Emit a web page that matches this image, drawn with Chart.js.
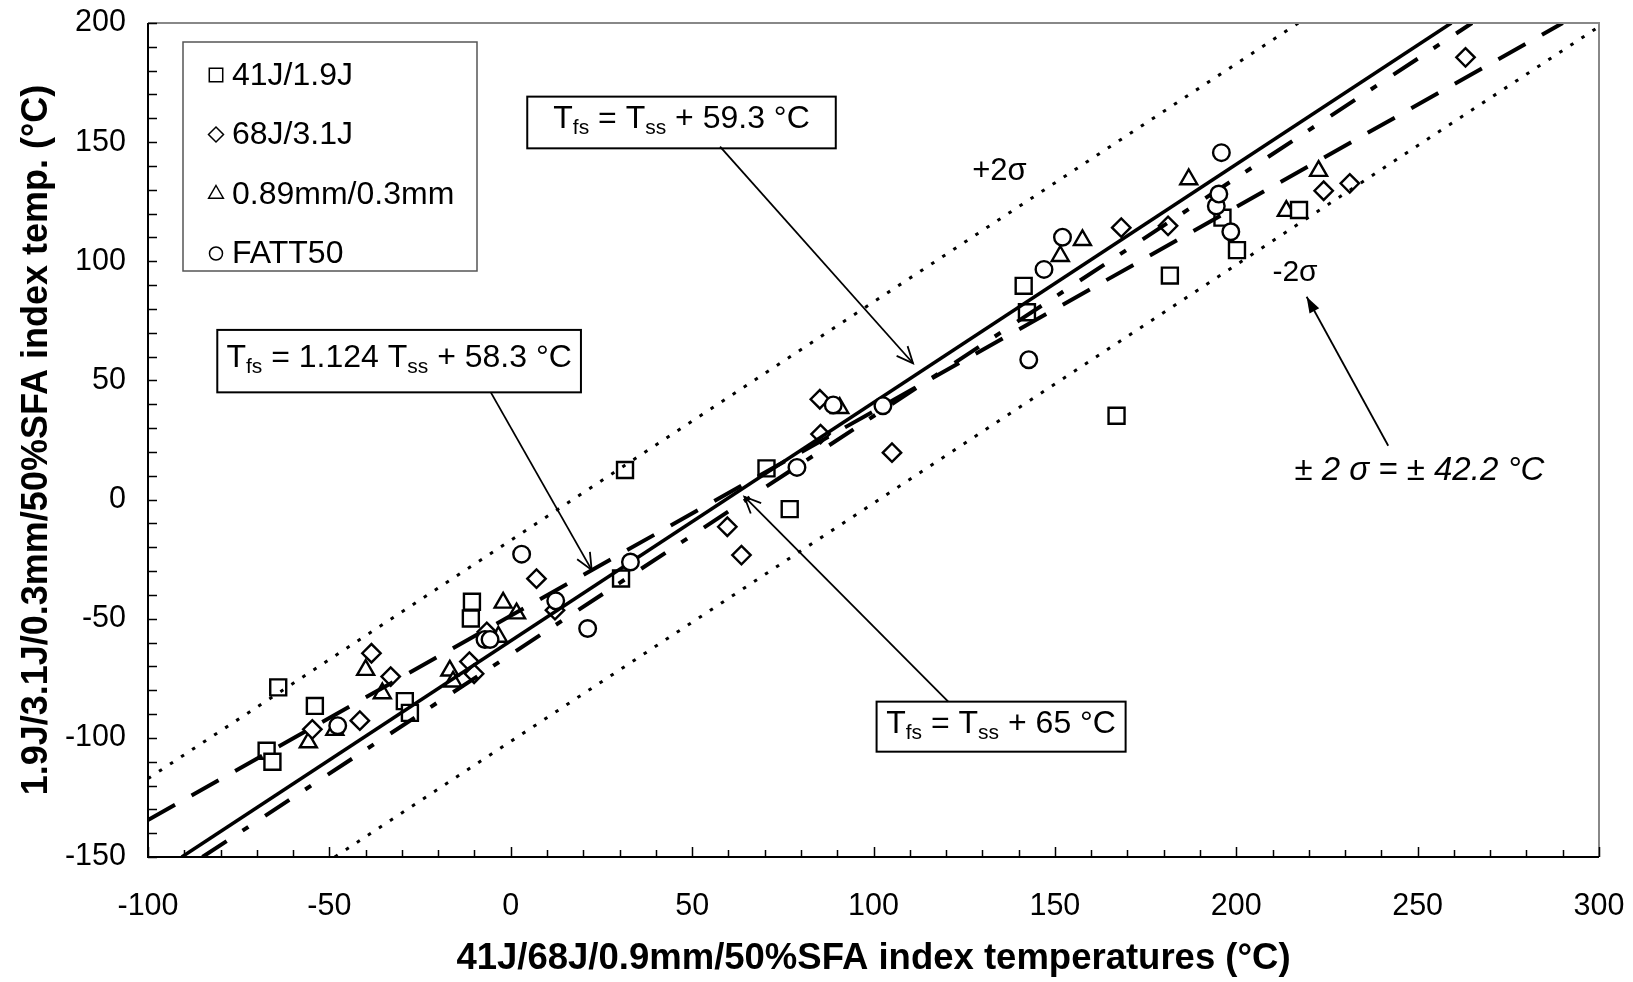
<!DOCTYPE html>
<html>
<head>
<meta charset="utf-8">
<title>Index temperatures</title>
<script src="https://cdn.jsdelivr.net/npm/chart.js@4.4.1/dist/chart.umd.min.js"></script>
<style>
  html, body { margin: 0; padding: 0; background: #fff; }
  canvas { display: block; }
</style>
</head>
<body>
<canvas id="myChart" width="1633" height="982"></canvas>
<script>
// index temperatures in °C : x = full size specimen, y = sub size specimen
const seriesNames = ['41J/1.9J', '68J/3.1J', '0.89mm/0.3mm', 'FATT50']

const sqX = [-67.3, -65.7, -64.1, -54.0, -29.2, -27.8, -10.7, -11.0, 30.4, 31.5, 70.5, 76.9, 141.4, 142.3, 167.0, 181.7, 196.2, 200.2, 217.3]
const sqY = [-105.4, -110.0, -78.8, -86.6, -84.6, -89.5, -42.9, -49.9, -33.1, 12.4, 13.1, -4.0, 89.7, 78.6, 35.2, 94.0, 118.3, 104.7, 121.5]

const dmX = [-54.7, -41.6, -38.4, -33.1, -11.4, -10.1, -6.6, 7.1, 12.2, 59.7, 63.6, 85.2, 85.4, 105.1, 168.3, 181.2, 224.1, 231.3, 263.2]
const dmY = [-96.4, -92.8, -64.5, -74.3, -68.0, -73.1, -55.5, -33.2, -46.4, -11.4, -23.3, 42.1, 27.5, 19.7, 114.1, 114.9, 129.6, 132.7, 185.6]

const trX = [-55.8, -48.5, -40.0, -35.4, -16.8, -15.9, -3.4, -2.1, 1.6, 90.7, 151.5, 157.6, 186.9, 213.8, 222.7]
const trY = [-101.9, -96.7, -71.5, -81.3, -71.8, -76.4, -57.6, -43.3, -47.8, 38.4, 102.2, 108.9, 134.4, 121.1, 137.9]

const ciX = [-47.7, -7.1, -5.7, 3.0, 12.4, 21.2, 33.0, 78.9, 88.9, 102.6, 142.8, 147.0, 152.1, 194.5, 195.2, 195.9, 198.5]
const ciY = [-94.9, -58.7, -58.7, -22.9, -42.5, -54.1, -26.2, 13.5, 39.7, 39.4, 58.7, 96.6, 110.1, 123.2, 128.2, 145.6, 112.4]

// correlation lines (end points)
const shiftX = [-90.7, 259.3], shiftY = [-150, 200]     // T_fs = T_ss + 59.3
const shift65X = [-85, 265], shift65Y = [-150, 200]     // T_fs = T_ss + 65
const regX = [-100, 290], regY = [-134.5, 200]          // linear fit
const upX = [-100, 217.1], upY = [-117.1, 200]          // +2 sigma
const loX = [-48.5, 300], loY = [-150, 198.5]           // -2 sigma

const xTicks = [-100, -50, 0, 50, 100, 150, 200, 250, 300]
const yTicks = [-150, -100, -50, 0, 50, 100, 150, 200]

const FONT = "'Liberation Sans', Arial, sans-serif"

const pts = (xs, ys) => xs.map((x, i) => ({ x: x, y: ys[i] }))

function markerSet(label, xs, ys, style, r, order) {
    return {
        label: label,
        data: pts(xs, ys),
        pointStyle: style,
        pointRadius: r,
        pointBorderWidth: 2.4,
        pointBorderColor: '#000',
        pointBackgroundColor: '#fff',
        showLine: false,
        order: order
    }
}

function lineSet(xs, ys, width, dash) {
    return {
        data: pts(xs, ys),
        showLine: true,
        pointRadius: 0,
        borderColor: '#000',
        borderWidth: width,
        borderDash: dash,
        fill: false,
        order: 1
    }
}

// hollow marker used in the legend box
function drawMarker(ctx, style, x, y, r) {
    ctx.beginPath()
    if (style === 'rect') {
        const s = r * Math.SQRT1_2
        ctx.rect(x - s, y - s, 2 * s, 2 * s)
    } else if (style === 'rectRot') {
        ctx.moveTo(x - r, y); ctx.lineTo(x, y - r); ctx.lineTo(x + r, y); ctx.lineTo(x, y + r); ctx.closePath()
    } else if (style === 'triangle') {
        ctx.moveTo(x, y - r); ctx.lineTo(x + r * 0.866, y + r / 2); ctx.lineTo(x - r * 0.866, y + r / 2); ctx.closePath()
    } else {
        ctx.arc(x, y, r, 0, Math.PI * 2)
    }
    ctx.fill()
    ctx.stroke()
}

// box with T_fs / T_ss text, subscripts drawn smaller and lower
const eqBoxes = [
    { parts: [['T', 0], ['fs', 1], [' = T', 0], ['ss', 1], [' + 59.3 °C', 0]], box: [4.55, 169.1, 89.6, 147.4], arrow: [57.7, 148.1, 110.9, 57.2] },
    { parts: [['T', 0], ['fs', 1], [' = 1.124 T', 0], ['ss', 1], [' + 58.3 °C', 0]], box: [-80.9, 71.2, 19.35, 45.0], arrow: [-5.5, 45.0, 22.3, -29.5] },
    { parts: [['T', 0], ['fs', 1], [' = T', 0], ['ss', 1], [' + 65 °C', 0]], box: [100.85, -84.8, 169.5, -105.8], arrow: [120.6, -84.8, 64.4, 1.2] }
]

function arrowLine(ctx, x0, y0, x1, y1, filled) {
    const a = Math.atan2(y1 - y0, x1 - x0)
    ctx.beginPath()
    ctx.moveTo(x0, y0)
    ctx.lineTo(x1, y1)
    ctx.stroke()
    const len = filled ? 17 : 18, spread = filled ? 0.33 : 0.42
    ctx.beginPath()
    ctx.moveTo(x1 - len * Math.cos(a - spread), y1 - len * Math.sin(a - spread))
    ctx.lineTo(x1, y1)
    ctx.lineTo(x1 - len * Math.cos(a + spread), y1 - len * Math.sin(a + spread))
    if (filled) { ctx.closePath(); ctx.fill() } else ctx.stroke()
}

const frame = {
    id: 'frame',
    afterDatasetsDraw(chart) {
        const { ctx, chartArea: a, scales: { x, y } } = chart
        ctx.save()
        ctx.lineWidth = 2
        ctx.strokeStyle = '#888'
        ctx.beginPath()
        ctx.moveTo(a.left, a.top); ctx.lineTo(a.right, a.top); ctx.lineTo(a.right, a.bottom)
        ctx.stroke()
        ctx.strokeStyle = '#000'
        ctx.beginPath()
        ctx.moveTo(a.left, a.top); ctx.lineTo(a.left, a.bottom); ctx.lineTo(a.right, a.bottom)
        ctx.stroke()
        // small inward ticks every 10 °C
        ctx.lineWidth = 1.5
        ctx.beginPath()
        for (let v = x.min; v <= x.max; v += 10) {
            const px = Math.round(x.getPixelForValue(v)) + 0.5
            ctx.moveTo(px, a.bottom)
            ctx.lineTo(px, a.bottom - (v % 50 === 0 ? 10 : 7))
        }
        for (let v = y.min; v <= y.max; v += 10) {
            const py = Math.round(y.getPixelForValue(v)) + 0.5
            ctx.moveTo(a.left, py)
            ctx.lineTo(a.left + 9, py)
        }
        ctx.stroke()
        ctx.restore()
    }
}

const notes = {
    id: 'notes',
    afterDraw(chart) {
        const { ctx, chartArea: a, scales: { x, y } } = chart
        const X = v => x.getPixelForValue(v), Y = v => y.getPixelForValue(v)
        ctx.save()
        ctx.fillStyle = '#000'
        ctx.strokeStyle = '#000'

        // equation boxes and their arrows
        eqBoxes.forEach(e => {
            const l = X(e.box[0]), t = Y(e.box[1]), r = X(e.box[2]), b = Y(e.box[3])
            ctx.fillStyle = '#fff'
            ctx.fillRect(l, t, r - l, b - t)
            ctx.lineWidth = 2
            ctx.strokeRect(l, t, r - l, b - t)
            ctx.fillStyle = '#000'
            let w = 0
            e.parts.forEach(p => {
                ctx.font = (p[1] ? '21px ' : '32px ') + FONT
                w += ctx.measureText(p[0]).width
            })
            let cx = (l + r) / 2 - w / 2
            const base = (t + b) / 2 + 6
            ctx.textBaseline = 'alphabetic'
            ctx.textAlign = 'left'
            e.parts.forEach(p => {
                ctx.font = (p[1] ? '21px ' : '32px ') + FONT
                ctx.fillText(p[0], cx, p[1] ? base + 6 : base)
                cx += ctx.measureText(p[0]).width
            })
            ctx.lineWidth = 1.8
            arrowLine(ctx, X(e.arrow[0]), Y(e.arrow[1]), X(e.arrow[2]), Y(e.arrow[3]), false)
        })

        // sigma band labels
        ctx.textAlign = 'center'
        ctx.textBaseline = 'middle'
        ctx.font = '31px ' + FONT
        ctx.fillText('+2σ', X(134.7), Y(137.5))
        ctx.font = '30px ' + FONT
        ctx.fillText('-2σ', X(216.2), Y(95.0))
        ctx.font = 'italic 33px ' + FONT
        ctx.fillText('± 2 σ = ± 42.2 °C', X(250.5), Y(12.1))
        ctx.lineWidth = 1.8
        arrowLine(ctx, X(241.9), Y(22.6), X(219.4), Y(85.1), true)

        // legend box
        const lx = a.left + 35, ly = a.top + 19
        ctx.fillStyle = '#fff'
        ctx.fillRect(lx, ly, 294, 229)
        ctx.lineWidth = 1.5
        ctx.strokeStyle = '#555'
        ctx.strokeRect(lx, ly, 294, 229)
        const styles = [['rect', 9.5], ['rectRot', 7.5], ['triangle', 8.5], ['circle', 6.5]]
        seriesNames.forEach((name, i) => {
            const cy = ly + 33 + i * 59.5
            ctx.strokeStyle = '#000'
            ctx.fillStyle = '#fff'
            ctx.lineWidth = 1.5
            drawMarker(ctx, styles[i][0], lx + 33, cy, styles[i][1])
            ctx.fillStyle = '#000'
            ctx.textAlign = 'left'
            ctx.textBaseline = 'middle'
            ctx.font = '32px ' + FONT
            ctx.fillText(name, lx + 49, cy + 1)
        })
        ctx.restore()
    }
}

// keep the plot box where the layout padding puts it
const noEdge = s => {
    s.paddingTop = 0; s.paddingBottom = 0; s.paddingLeft = 0; s.paddingRight = 0
}

const myChart = new Chart(document.getElementById('myChart'), {
    type: 'scatter',
    data: {
        datasets: [
            markerSet(seriesNames[3], ciX, ciY, 'circle', 8.3, 0),
            lineSet(shiftX, shiftY, 3.5, []),
            lineSet(shift65X, shift65Y, 4, [29, 19, 7, 20]),
            lineSet(regX, regY, 4, [31, 19]),
            lineSet(upX, upY, 3, [3.5, 9.7]),
            lineSet(loX, loY, 3, [3.5, 9.7]),
            markerSet(seriesNames[0], sqX, sqY, 'rect', 11.3, 2),
            markerSet(seriesNames[1], dmX, dmY, 'rectRot', 9.2, 2),
            markerSet(seriesNames[2], trX, trY, 'triangle', 9.8, 2)
        ]
    },
    options: {
        responsive: false,
        animation: false,
        events: [],
        layout: { padding: { top: 23, right: 34, left: 0, bottom: 0 } },
        plugins: { legend: { display: false }, tooltip: { enabled: false } },
        scales: {
            x: {
                type: 'linear', min: -100, max: 300,
                afterBuildTicks: s => { s.ticks = xTicks.map(v => ({ value: v })) },
                afterFit: s => { s.height = 125; noEdge(s) },
                grid: { display: false, drawTicks: false },
                border: { display: false },
                ticks: { color: '#000', padding: 31, maxRotation: 0, autoSkip: false, font: { family: FONT, size: 30.5 } },
                title: {
                    display: true, text: '41J/68J/0.9mm/50%SFA index temperatures (°C)', color: '#000',
                    font: { family: FONT, size: 36.5, weight: 'bold' }, padding: { top: 0, bottom: 1 }
                }
            },
            y: {
                type: 'linear', min: -150, max: 200,
                afterBuildTicks: s => { s.ticks = yTicks.map(v => ({ value: v })) },
                afterFit: s => { s.width = 148; noEdge(s) },
                grid: { display: false, drawTicks: false },
                border: { display: false },
                ticks: { color: '#000', padding: 22, autoSkip: false, font: { family: FONT, size: 30.5 } },
                title: {
                    display: true, text: '1.9J/3.1J/0.3mm/50%SFA index temp. (°C)', color: '#000',
                    font: { family: FONT, size: 36, weight: 'bold' }, padding: { top: 15, bottom: 0 }
                }
            }
        }
    },
    plugins: [frame, notes]
})
</script>
</body>
</html>
